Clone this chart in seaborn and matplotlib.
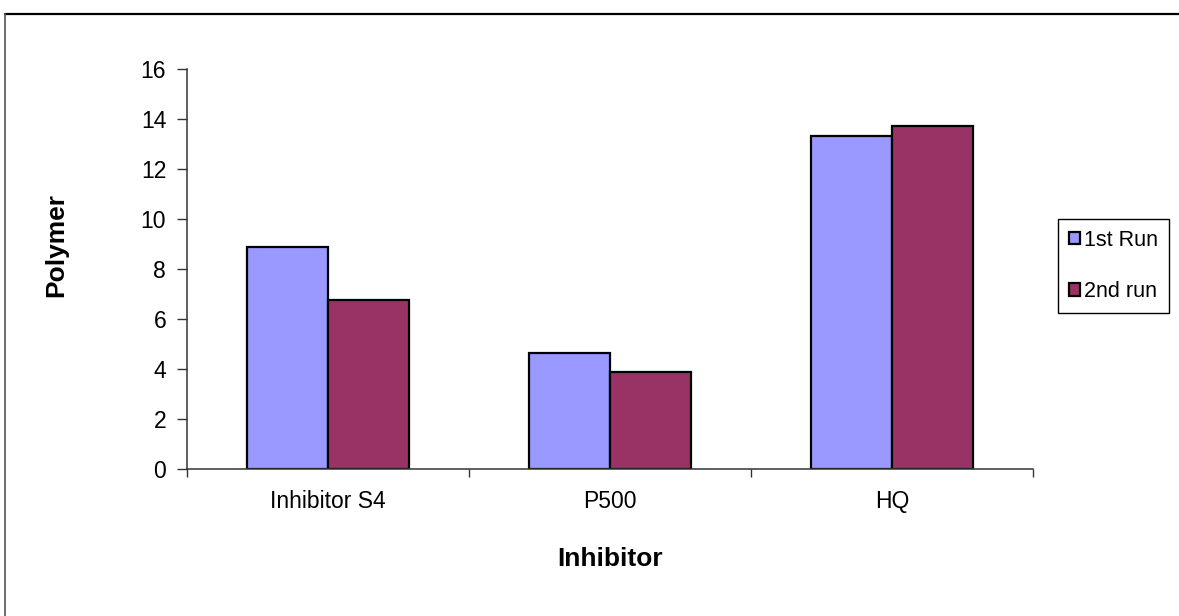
import matplotlib
matplotlib.use("Agg")
import matplotlib.pyplot as plt
from matplotlib.lines import Line2D
from matplotlib.ticker import FixedLocator
import pandas as pd
import seaborn as sns

# Polymer formed for each inhibitor, two runs
inhibitors = ["Inhibitor S4", "P500", "HQ"]
first_run = [8.9, 4.66, 13.32]
second_run = [6.77, 3.88, 13.73]
series_names = ["1st Run", "2nd run"]
y_ticks = [0, 2, 4, 6, 8, 10, 12, 14, 16]

df = pd.DataFrame({
    "Inhibitor": inhibitors * 2,
    "Polymer": first_run + second_run,
    "Run": [series_names[0]] * len(inhibitors) + [series_names[1]] * len(inhibitors),
})

sns.set_theme(style="white")
plt.rcParams["font.family"] = ["Liberation Sans", "DejaVu Sans"]
plt.rcParams["text.color"] = "black"
plt.rcParams["xtick.labelcolor"] = "black"
plt.rcParams["ytick.labelcolor"] = "black"
plt.rcParams["axes.labelcolor"] = "black"

fig = plt.figure(figsize=(11.79, 6.16), dpi=100)
ax = fig.add_axes([187 / 1179, 1 - 469 / 616, 846 / 1179, 400 / 616])

sns.barplot(
    data=df, x="Inhibitor", y="Polymer", hue="Run", order=inhibitors,
    hue_order=series_names,
    palette={series_names[0]: "#9999FF", series_names[1]: "#993366"},
    width=0.575, edgecolor="black", linewidth=1.6, saturation=1,
    ax=ax,
)

ax.set_ylim(0, 16)
ax.set_xlim(-0.5, len(inhibitors) - 0.5)
ax.set_yticks(y_ticks)
ax.tick_params(axis="y", which="major", direction="out", length=7, width=1,
               color="#333333", pad=8, labelsize=16.5, left=True)
ax.tick_params(axis="x", which="major", length=0, pad=15, labelsize=16.5)
ax.xaxis.set_minor_locator(FixedLocator([i - 0.5 for i in range(len(inhibitors) + 1)]))
ax.tick_params(axis="x", which="minor", direction="out", length=6, width=1,
               color="#333333", bottom=True)

for side in ["top", "right"]:
    ax.spines[side].set_visible(False)
for side in ["left", "bottom"]:
    ax.spines[side].set_color("#333333")
    ax.spines[side].set_linewidth(1.1)

ax.set_ylabel("Polymer", fontsize=19, fontweight="bold", va="center")
ax.yaxis.set_label_coords(-0.155, 0.56)
ax.set_xlabel("Inhibitor", fontsize=19, fontweight="bold", va="center")
ax.xaxis.set_label_coords(0.5, -0.225)

handles, labels = ax.get_legend_handles_labels()
ax.legend(
    handles, labels, loc="center left", bbox_to_anchor=(1058 / 1179, 1 - 266 / 616),
    bbox_transform=fig.transFigure, fontsize=15.5, frameon=True, fancybox=False,
    edgecolor="black", framealpha=1, handlelength=0.5, handleheight=0.5,
    handletextpad=0.2, labelspacing=1.4, borderpad=0.5, borderaxespad=0,
)
ax.get_legend().get_frame().set_linewidth(1.0)

# Chart-area frame (top and left edges)
fig.add_artist(Line2D([4.8 / 1179, 1.0], [1 - 14 / 616] * 2, transform=fig.transFigure,
                      color="black", linewidth=1.6))
fig.add_artist(Line2D([4.8 / 1179] * 2, [0.0, 1 - 14 / 616], transform=fig.transFigure,
                      color="#555555", linewidth=1.2))

fig.savefig("out.png", dpi=100, facecolor="white")
